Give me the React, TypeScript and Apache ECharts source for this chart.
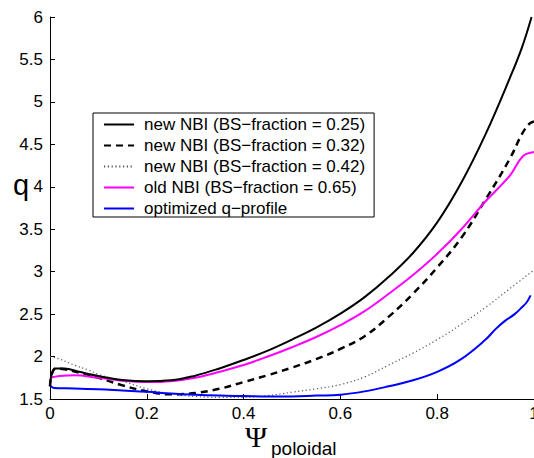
import React, { useEffect, useRef } from "react";
import * as echarts from "echarts";

// psi (poloidal flux coordinate) and q values
const newNBI025: [number, number][] = [
  [0, 1.65], [0.004, 1.8], [0.012, 1.86], [0.03, 1.86], [0.06, 1.82], [0.1, 1.77],
  [0.15, 1.725], [0.2, 1.71], [0.25, 1.72], [0.3, 1.775], [0.35, 1.86], [0.4, 1.96],
  [0.45, 2.07], [0.5, 2.2], [0.55, 2.34], [0.6, 2.505], [0.65, 2.7], [0.7, 2.94],
  [0.75, 3.22], [0.8, 3.58], [0.85, 4.05], [0.9, 4.62], [0.95, 5.28], [0.975, 5.64], [0.995, 6.0],
];
const newNBI032: [number, number][] = [
  [0, 1.65], [0.004, 1.8], [0.012, 1.86], [0.03, 1.85], [0.06, 1.81], [0.1, 1.75],
  [0.15, 1.66], [0.2, 1.59], [0.25, 1.555], [0.3, 1.57], [0.35, 1.62], [0.4, 1.7],
  [0.45, 1.78], [0.5, 1.87], [0.55, 1.97], [0.6, 2.09], [0.65, 2.24], [0.7, 2.47],
  [0.75, 2.74], [0.8, 3.05], [0.85, 3.4], [0.9, 3.85], [0.95, 4.33], [0.975, 4.62],
  [0.99, 4.74], [1.0, 4.77],
];
const newNBI042: [number, number][] = [
  [0, 2.0], [0.02, 1.97], [0.05, 1.9], [0.08, 1.84], [0.1, 1.79], [0.13, 1.74],
  [0.15, 1.71], [0.2, 1.62], [0.25, 1.56], [0.3, 1.53], [0.35, 1.52], [0.4, 1.52],
  [0.45, 1.54], [0.5, 1.58], [0.55, 1.62], [0.6, 1.67], [0.65, 1.76], [0.7, 1.9],
  [0.75, 2.04], [0.8, 2.2], [0.85, 2.38], [0.9, 2.58], [0.95, 2.8], [1.0, 3.02],
];
const oldNBI065: [number, number][] = [
  [0, 1.75], [0.02, 1.77], [0.05, 1.78], [0.1, 1.75], [0.15, 1.715], [0.2, 1.7],
  [0.25, 1.71], [0.3, 1.75], [0.35, 1.82], [0.4, 1.9], [0.45, 2.0], [0.5, 2.11],
  [0.55, 2.23], [0.6, 2.37], [0.65, 2.535], [0.7, 2.74], [0.75, 2.96], [0.8, 3.21],
  [0.85, 3.5], [0.9, 3.83], [0.95, 4.13], [0.977, 4.36], [1.0, 4.41],
];
const optimized: [number, number][] = [
  [0, 1.66], [0.008, 1.63], [0.05, 1.625], [0.1, 1.615], [0.15, 1.6], [0.2, 1.585],
  [0.25, 1.565], [0.3, 1.55], [0.35, 1.54], [0.4, 1.535], [0.45, 1.53], [0.5, 1.53],
  [0.55, 1.54], [0.6, 1.55], [0.65, 1.59], [0.7, 1.65], [0.75, 1.72], [0.8, 1.82],
  [0.847, 1.96], [0.9, 2.2], [0.92, 2.32], [0.94, 2.42], [0.96, 2.5], [0.975, 2.58],
  [0.985, 2.64], [0.993, 2.72],
];

const seriesNames = [
  "new NBI (BS\u2212fraction = 0.25)",
  "new NBI (BS\u2212fraction = 0.32)",
  "new NBI (BS\u2212fraction = 0.42)",
  "old NBI (BS\u2212fraction = 0.65)",
  "optimized q\u2212profile",
];

const FONT = "'Liberation Sans', Arial, sans-serif";

export default function App() {
  const ref = useRef<HTMLDivElement>(null);
  useEffect(() => {
    document.body.style.margin = "0";
    const chart = echarts.init(ref.current!, null, { renderer: "svg" });
    const mk = (name: string, data: [number, number][], color: string, width: number, type: any, z: number) => ({
      name,
      type: "line",
      data,
      symbol: "none",
      showSymbol: false,
      smooth: 0.4,
      z,
      lineStyle: { color, width, type },
      itemStyle: { color, opacity: 0 },
    });
    chart.setOption({
      animation: false,
      grid: { left: 50, right: 0, top: 17, bottom: 59, containLabel: false, outerBoundsMode: "none" },
      xAxis: {
        type: "value",
        min: 0,
        max: 1,
        interval: 0.2,
        axisLine: { show: true, lineStyle: { color: "#000", width: 1 } },
        axisTick: { show: true, inside: true, length: 5, lineStyle: { color: "#000" } },
        splitLine: { show: false },
        axisLabel: { color: "#000", fontSize: 17, lineHeight: 14, fontFamily: FONT, margin: 7, showMaxLabel: true },
      },
      yAxis: {
        type: "value",
        min: 1.5,
        max: 6,
        interval: 0.5,
        axisLine: { show: true, lineStyle: { color: "#000", width: 1 } },
        axisTick: { show: true, inside: true, length: 5, lineStyle: { color: "#000" } },
        splitLine: { show: false },
        axisLabel: { color: "#000", fontSize: 17, fontFamily: FONT, margin: 7 },
      },
      legend: {
        orient: "vertical",
        left: 93,
        top: 113,
        backgroundColor: "#fff",
        borderColor: "#000",
        borderWidth: 1,
        borderRadius: 0,
        padding: [3, 9, 0, 10],
        itemWidth: 30,
        itemHeight: 14,
        itemGap: 4,
        itemStyle: { opacity: 0 },
        textStyle: { color: "#000", fontSize: 17, lineHeight: 14, fontFamily: FONT, padding: [0, 0, 0, 5] },
        data: seriesNames,
      },
      series: [
        mk(seriesNames[0], newNBI025, "#000000", 2, "solid", 5),
        mk(seriesNames[1], newNBI032, "#000000", 2.5, [7, 5], 3),
        mk(seriesNames[2], newNBI042, "#555555", 1.2, [1.2, 2.6], 2),
        mk(seriesNames[3], oldNBI065, "#ff00ff", 2, "solid", 4),
        mk(seriesNames[4], optimized, "#0000ff", 2, "solid", 4),
      ],
      graphic: [
        {
          type: "text",
          left: 13,
          top: 170,
          style: { text: "q", fontSize: 29, fontFamily: FONT, fill: "#000" },
        },
        {
          type: "text",
          left: 245,
          top: 421,
          style: {
            text: "\u03A8",
            fontSize: 30,
            lineHeight: 22,
            fontFamily: "'Liberation Serif', 'DejaVu Serif', serif",
            fill: "#000",
          },
        },
        {
          type: "text",
          left: 271,
          top: 439,
          style: { text: "poloidal", fontSize: 19, lineHeight: 19, fontFamily: FONT, fill: "#000" },
        },
      ],
    });
    return () => chart.dispose();
  }, []);
  return <div ref={ref} style={{ width: 534, height: 458 }} />;
}
